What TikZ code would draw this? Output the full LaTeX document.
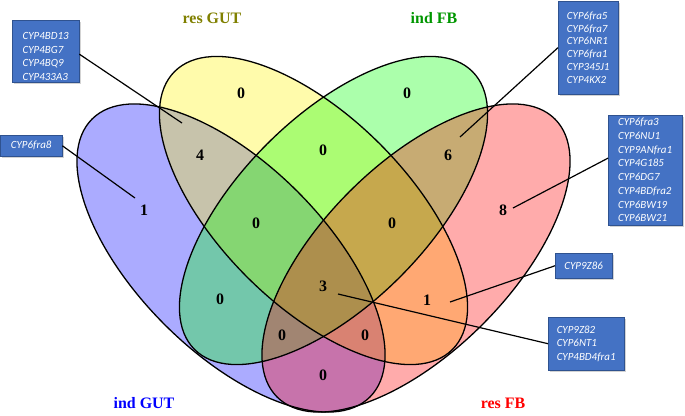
\documentclass[tikz,border=0pt]{standalone}
\usepackage{fontspec}
\setmainfont{Liberation Serif}
\newfontfamily\genefont{Carlito}
\usetikzlibrary{shadows}

\definecolor{boxblue}{RGB}{68,114,196}
\definecolor{boxedge}{RGB}{47,82,143}
\definecolor{resgut}{RGB}{128,128,0}
\definecolor{indfb}{RGB}{0,150,0}

\begin{document}
\begin{tikzpicture}[
    x=1bp, y=-1bp,
    setfill/.style={fill opacity=0.33},
    setline/.style={line width=1.3pt},
    count/.style={font=\fontsize{16}{16}\selectfont\bfseries},
    catlabel/.style={font=\fontsize{16}{16}\selectfont\bfseries},
    genetext/.style={text=white, font=\genefont\itshape\fontsize{11}{13.8}\selectfont, align=left, inner sep=0pt},
    genebox/.style={genetext, fill=boxblue, draw=boxedge, line width=0.6pt, anchor=north west,
        drop shadow={shadow xshift=2pt, shadow yshift=-2pt, opacity=0.35}},
    link/.style={line width=1.2pt}
]
    \useasboundingbox (0,0) rectangle (685,415);

    % === Ellipses ===
    \foreach \cx/\cy/\ang/\col in {231/258/-45/blue, 313.5/210.5/-45/yellow, 333.5/210.5/45/green, 416/258/45/red}
        \fill[\col, setfill, rotate around={\ang:(\cx,\cy)}] (\cx,\cy) ellipse [x radius=196.5, y radius=94];
    \foreach \cx/\cy/\ang in {231/258/-45, 313.5/210.5/-45, 333.5/210.5/45, 416/258/45}
        \draw[setline, rotate around={\ang:(\cx,\cy)}] (\cx,\cy) ellipse [x radius=196.5, y radius=94];

    % === Category labels ===
    \node[catlabel, text=resgut] (catA) at (212,18) {res GUT};
    \node[catlabel, text=indfb] (catB) at (434,18) {ind FB};
    \node[catlabel, text=blue] (catC) at (144,403) {ind GUT};
    \node[catlabel, text=red] (catD) at (503,403) {res FB};

    % === Counts ===
    \node[count] (nY) at (241,93) {0};
    \node[count] (nG) at (407,93) {0};
    \node[count] (nYG) at (323,150) {0};
    \node[count] (nBY) at (200,155) {4};
    \node[count] (nGR) at (448,155) {6};
    \node[count] (nB) at (144,210) {1};
    \node[count] (nR) at (503,210) {8};
    \node[count] (nBYG) at (256,223) {0};
    \node[count] (nYGR) at (392,223) {0};
    \node[count] (nBG) at (220,299) {0};
    \node[count] (nYR) at (427,300) {1};
    \node[count] (nAll) at (323,286) {3};
    \node[count] (nBGR) at (282,335) {0};
    \node[count] (nBYR) at (365,335) {0};
    \node[count] (nBR) at (323,375) {0};

    % === Gene boxes ===
    \node[genebox, minimum width=67, minimum height=62,
        path picture={\clip (path picture bounding box.north west) rectangle ([yshift=2.5pt]path picture bounding box.south east);
            \node[genetext, anchor=north] (gAtext) at ([yshift=-5pt]path picture bounding box.north)
            {CYP4BD13\\CYP4BG7\\CYP4BQ9\\CYP433A3};}] (gA) at (12,20) {};
    \node[genebox, minimum width=62, minimum height=21] (gB) at (0,135) {CYP6fra8};
    \node[genebox, minimum width=60, minimum height=93, font=\genefont\itshape\fontsize{11}{12.8}\selectfont] (gC) at (558,1)
        {CYP6fra5\\CYP6fra7\\CYP6NR1\\CYP6fra1\\CYP345J1\\CYP4KX2};
    \node[genebox, minimum width=74, minimum height=110] (gD) at (608,115)
        {CYP6fra3\\CYP6NU1\\CYP9ANfra1\\CYP4G185\\CYP6DG7\\CYP4BDfra2\\CYP6BW19\\CYP6BW21};
    \node[genebox, minimum width=57, minimum height=25] (gE) at (555,253) {CYP9Z86};
    \node[genebox, minimum width=76, minimum height=53] (gF) at (548,317)
        {CYP9Z82\\CYP6NT1\\CYP4BD4fra1};

    % === Connectors ===
    \coordinate (eA) at (182,123);
    \coordinate (eB) at (135,198);
    \coordinate (eC) at (460,137);
    \coordinate (eD) at (513,208);
    \coordinate (eE) at (450,302);
    \coordinate (eF) at (338,294);
    \draw[link] ([yshift=-3pt]gA.east) -- (eA);
    \draw[link] (gB.east) -- (eB);
    \draw[link] (gC.west) -- (eC);
    \draw[link] ([yshift=12pt]gD.west) -- (eD);
    \draw[link] (gE.west) -- (eE);
    \draw[link] (gF.west) -- (eF);
\end{tikzpicture}
\end{document}
